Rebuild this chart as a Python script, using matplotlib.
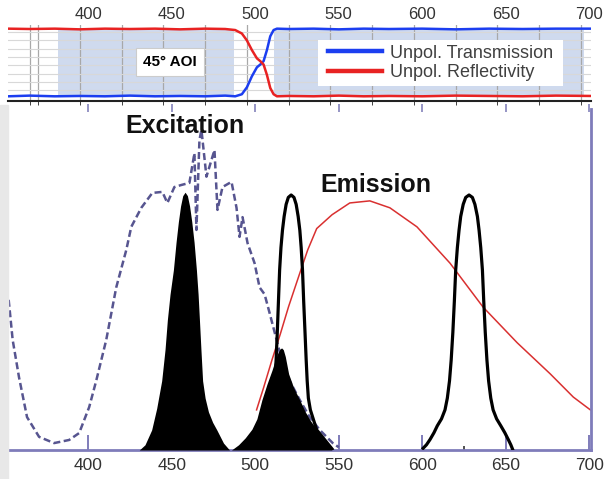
import matplotlib.pyplot as plt
from matplotlib.patches import Rectangle

plt.rcParams['font.family'] = ['Liberation Sans', 'DejaVu Sans']

# ---- top panel: 45 deg dichroic mirror ----
refl_nm = [352, 365, 380, 395, 410, 425, 440, 455, 470, 482, 488, 492, 495, 498, 501, 503, 505,
           507, 509, 511, 513, 520, 535, 550, 565, 580, 600, 620, 640, 660, 680, 701]
refl_val = [0.99, 0.985, 0.99, 0.98, 0.99, 0.985, 0.99, 0.98, 0.99, 0.985, 0.97, 0.92, 0.82, 0.68,
            0.56, 0.52, 0.47, 0.32, 0.13, 0.04, 0.01, 0.015, 0.01, 0.02, 0.01, 0.015, 0.01, 0.02,
            0.015, 0.01, 0.02, 0.015]
trans_nm = [352, 365, 380, 395, 410, 425, 440, 455, 470, 482, 488, 492, 495, 498, 501, 503, 505,
            507, 509, 511, 513, 520, 535, 550, 565, 580, 600, 620, 640, 660, 680, 701]
trans_val = [0.01, 0.02, 0.01, 0.015, 0.01, 0.02, 0.01, 0.015, 0.01, 0.02, 0.01, 0.04, 0.14, 0.3,
             0.43, 0.47, 0.52, 0.68, 0.88, 0.97, 0.99, 0.985, 0.99, 0.98, 0.99, 0.985, 0.99,
             0.98, 0.99, 0.985, 0.99, 0.99]
top_ticks = [400, 450, 500, 550, 600, 650, 700]
top_grid = [365, 370, 395, 420, 445, 470, 495, 520, 545, 570, 595, 620, 645, 670, 695]
top_hgrid = [0.1, 0.22, 0.34, 0.46, 0.58, 0.70, 0.82, 0.94]
shade_bands = [(382, 487), (511, 697)]

# ---- bottom panel: spectra ----
exc_nm = [352.4, 354.8, 358.6, 363.4, 370.6, 379.6, 388.6, 394.6, 400.6, 404.8, 410.8, 416.8,
          422.8, 425.8, 431.8, 438.4, 444.4, 447.4, 451.6, 455.8, 460.6, 463.6, 464.8, 466.6,
          467.8, 470.8, 475.6, 477.4, 480.4, 485.8, 488.8, 490.6, 492.4, 495.4, 499.6, 502.6,
          505.6, 508.6, 512.8, 516.4, 520.6, 526.6, 532.6, 538.6, 546.4, 550]
exc_val = [0.434, 0.318, 0.21, 0.095, 0.038, 0.02, 0.029, 0.049, 0.124, 0.2, 0.318, 0.47,
           0.578, 0.645, 0.70, 0.743, 0.746, 0.714, 0.76, 0.766, 0.772, 0.858, 0.636, 0.896,
           0.925, 0.79, 0.867, 0.694, 0.76, 0.775, 0.70, 0.616, 0.673, 0.598, 0.54, 0.47,
           0.45, 0.396, 0.318, 0.25, 0.2, 0.145, 0.095, 0.058, 0.02, 0.008]

em_nm = [500.8, 505, 510, 515, 520, 526.6, 531.4, 536.8, 546, 556.6, 568.6, 580.6, 596.8,
         616.6, 636.4, 656.8, 676.6, 690.4, 700.6]
em_val = [0.116, 0.18, 0.26, 0.335, 0.415, 0.51, 0.578, 0.64, 0.68, 0.714, 0.72, 0.70, 0.645,
          0.54, 0.413, 0.31, 0.22, 0.153, 0.116]

exfilt_nm = [430.6, 434, 438, 441, 444, 446, 447.4, 449, 451, 452.6, 454, 455.3, 456.6, 458,
             459.4, 460.7, 462, 463.4, 464.8, 465.8, 466.6, 467.5, 468.5, 470, 472, 474.5,
             477, 481, 484.6]
exfilt_val = [0.0, 0.015, 0.058, 0.12, 0.2, 0.29, 0.376, 0.45, 0.52, 0.6, 0.66, 0.705, 0.735,
              0.745, 0.735, 0.705, 0.66, 0.6, 0.52, 0.45, 0.376, 0.29, 0.2, 0.15, 0.11, 0.08,
              0.058, 0.02, 0.0]

bleed_nm = [485.8, 490, 494, 498, 501, 504, 507, 510, 512, 513.5, 514.8, 515.8, 516.8, 518,
            520, 523, 526.6, 530, 533, 537, 541, 546]
bleed_val = [0.0, 0.015, 0.035, 0.06, 0.09, 0.145, 0.19, 0.23, 0.26, 0.28, 0.292, 0.295, 0.29,
             0.27, 0.22, 0.18, 0.145, 0.11, 0.085, 0.058, 0.03, 0.0]

emf1_nm = [496, 499, 502, 505, 507.5, 509.5, 510.7, 511.7, 512.5, 513.2, 513.9, 514.6, 515.4,
           516.3, 517.3, 518.5, 519.8, 521.5, 523.2, 524.5, 525.7, 526.7, 527.5, 528.3, 529,
           529.8, 530.5, 531.1, 531.8, 533, 536.8, 539, 541.5, 544, 546]
emf1_val = [0.0, 0.015, 0.03, 0.05, 0.08, 0.116, 0.15, 0.2, 0.26, 0.34, 0.43, 0.52, 0.585,
            0.635, 0.675, 0.71, 0.73, 0.737, 0.73, 0.71, 0.675, 0.635, 0.585, 0.52, 0.43,
            0.34, 0.26, 0.2, 0.15, 0.116, 0.058, 0.045, 0.03, 0.015, 0.003]

emf2_nm = [600.5, 602.5, 604.6, 607, 609, 611.5, 613.6, 615, 616.3, 617.3, 618.3, 619.2, 620,
           621, 622, 623, 624.5, 626, 628, 630, 631.5, 633, 634, 635, 636, 636.8, 637.7,
           638.7, 639.7, 641, 642.4, 644.5, 647, 649.4, 651.5, 653, 654]
emf2_val = [0.005, 0.015, 0.03, 0.05, 0.07, 0.09, 0.116, 0.15, 0.2, 0.26, 0.34, 0.43, 0.52,
            0.585, 0.635, 0.675, 0.71, 0.73, 0.737, 0.73, 0.71, 0.675, 0.635, 0.585, 0.52,
            0.43, 0.34, 0.26, 0.2, 0.15, 0.116, 0.09, 0.07, 0.05, 0.03, 0.015, 0.003]

bottom_ticks = [400, 450, 500, 550, 600, 650, 700]
center_marks = [458, 522, 625]

W, H = 605, 479
fig = plt.figure(figsize=(W / 100, H / 100), dpi=100)
fig.patches.append(Rectangle((0, 0), 8 / W, 1 - 105 / H, transform=fig.transFigure,
                             color='#e8e8e8', zorder=0))

# top panel
ax1 = fig.add_axes([8 / W, 1 - 101 / H, 583 / W, 76 / H])
ax1.set_xlim(352, 701)
ax1.set_ylim(-0.058, 1.043)
for a, b in shade_bands:
    ax1.axvspan(a, b, ymin=0.07, ymax=0.93, color='#cfdaee', lw=0, zorder=0)
ax1.set_yticks(top_hgrid)
ax1.grid(axis='y', color='#d8d8d8', lw=0.8)
ax1.set_xticks(top_ticks)
ax1.set_xticks(top_grid, minor=True)
ax1.grid(axis='x', which='minor', color='#a8a8a8', lw=0.9)
ax1.xaxis.tick_top()
ax1.tick_params(axis='x', which='major', length=0, pad=2, labelsize=12, labelcolor='#333333')
ax1.tick_params(axis='x', which='minor', top=False, bottom=True, direction='out',
                length=3, color='#222222')
ax1.tick_params(axis='y', length=0, labelleft=False)
for s in ['top', 'left', 'right']:
    ax1.spines[s].set_visible(False)
ax1.spines['bottom'].set_color('#222222')
ax1.spines['bottom'].set_linewidth(1.5)
ax1.plot(trans_nm, trans_val, color='#1c3ef0', lw=1.8, label='Unpol. Transmission', zorder=3)
ax1.plot(refl_nm, refl_val, color='#e82222', lw=1.8, label='Unpol. Reflectivity', zorder=3)
ax1.add_patch(Rectangle((0.532, 0.197), 0.42, 0.603, transform=ax1.transAxes,
                        facecolor='white', edgecolor='none', zorder=4))
leg = ax1.legend(loc='center', bbox_to_anchor=(0.532, 0.197, 0.42, 0.603), frameon=False,
                 fontsize=13, handlelength=3.0, handletextpad=0.4, labelspacing=0.15)
for line in leg.get_lines():
    line.set_linewidth(3.2)
for t in leg.get_texts():
    t.set_color('#404040')
leg.set_zorder(5)
ax1.text(0.278, 0.51, '45° AOI', transform=ax1.transAxes, ha='center', va='center',
         fontsize=11, fontweight='bold', zorder=5,
         bbox=dict(boxstyle='square,pad=0.45', facecolor='white', edgecolor='#cccccc', lw=0.8))

# bottom panel
ax2 = fig.add_axes([8 / W, 1 - 450 / H, 583 / W, 346 / H])
ax2.set_xlim(352, 701)
ax2.set_ylim(0, 1)
ax2.patch.set_alpha(0)
ax2.plot(exc_nm, exc_val, color='#575590', lw=1.8, dashes=(2.8, 1.4), zorder=2)
ax2.plot(em_nm, em_val, color='#d93030', lw=1.1, zorder=2)
ax2.fill_between(exfilt_nm, exfilt_val, 0, color='black', lw=0, zorder=3)
ax2.fill_between(bleed_nm, bleed_val, 0, color='black', lw=0, zorder=3)
ax2.plot(emf1_nm, emf1_val, color='black', lw=2.3, zorder=4, solid_joinstyle='round')
ax2.plot(emf2_nm, emf2_val, color='black', lw=2.3, zorder=4, solid_joinstyle='round')
ax2.set_xticks(bottom_ticks)
ax2.set_xticks(center_marks, minor=True)
ax2.tick_params(axis='x', which='major', direction='in', length=11, width=1.4,
                color='#7f7cba', labelsize=12.5, labelcolor='#333333', pad=6)
ax2.tick_params(axis='x', which='minor', direction='in', length=3, width=1.2, color='#333333')
ax2.set_yticks([])
for s in ['top', 'left']:
    ax2.spines[s].set_visible(False)
for s in ['bottom', 'right']:
    ax2.spines[s].set_color('#7f7cba')
    ax2.spines[s].set_linewidth(2)
ax2.spines['right'].set_bounds(0, 0.985)

sec = ax2.secondary_xaxis('top')
sec.set_xticks(bottom_ticks)
sec.tick_params(direction='in', length=6, width=1.3, color='#8e8cc0', labeltop=False)
sec.spines['top'].set_visible(False)

ax2.text(458, 0.935, 'Excitation', ha='center', va='center', fontsize=18, fontweight='bold',
         color='#111111', zorder=5)
ax2.text(572, 0.765, 'Emission', ha='center', va='center', fontsize=18, fontweight='bold',
         color='#111111', zorder=5)

fig.savefig('out.png', dpi=100)
